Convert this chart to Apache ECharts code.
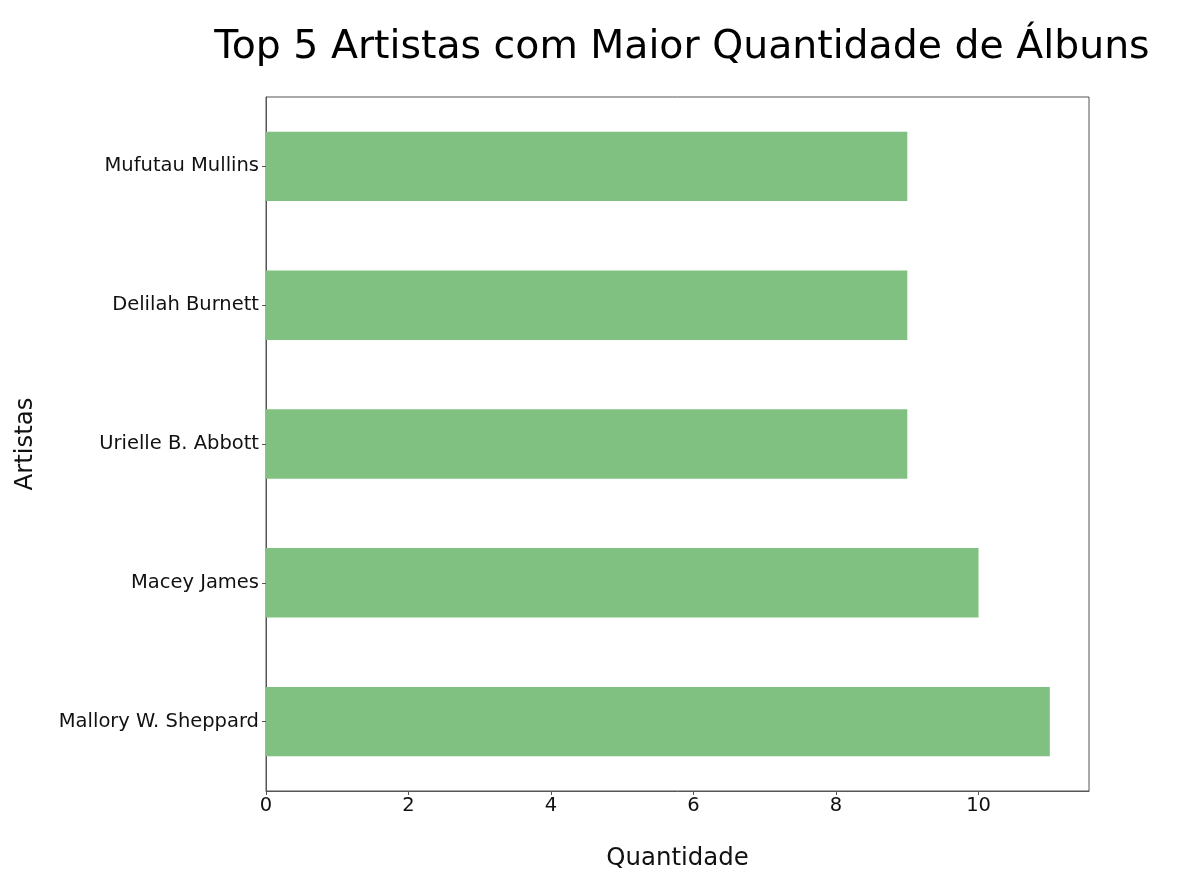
<!DOCTYPE html>
<html>
<head>
<meta charset="utf-8">
<script src="https://cdn.jsdelivr.net/npm/echarts@6/dist/echarts.min.js"></script>
<style>
    html, body { margin: 0; padding: 0; background: #fff; }
    #chart { width: 1194px; height: 881px; }
</style>
</head>
<body>
<div id="chart"></div>
<script>
    // artistas, de baixo para cima
    const artistas = ['Mallory W. Sheppard', 'Macey James', 'Urielle B. Abbott', 'Delilah Burnett', 'Mufutau Mullins'];
    const quantidades = [11, 10, 9, 9, 9];
    const xMax = 11.55;

    const fonte = 'DejaVu Sans';
    const chart = echarts.init(document.getElementById('chart'));

    const opt = {
        animation: false,
        title: {
            text: 'Top 5 Artistas com Maior Quantidade de Álbuns',
            left: 677, textAlign: 'center',
            top: 23,
            textStyle: { fontFamily: fonte, fontSize: 39.4, fontWeight: 'normal', color: '#000' }
        },
        grid: {
            left: 266, right: 105, top: 97, bottom: 90,
            show: true, borderColor: '#555', borderWidth: 1
        },
        xAxis: {
            type: 'value',
            min: 0, max: xMax, interval: 2,
            name: 'Quantidade',
            nameLocation: 'middle',
            nameGap: 56,
            nameTextStyle: { fontFamily: fonte, fontSize: 24.4, color: '#111' },
            axisLine: { show: true, lineStyle: { color: '#555' } },
            axisTick: { show: true, length: 4, lineStyle: { color: '#555' } },
            axisLabel: { fontFamily: fonte, fontSize: 19.5, color: '#111', margin: 5, showMaxLabel: false },
            splitLine: { show: false }
        },
        yAxis: {
            type: 'category',
            data: artistas,
            name: 'Artistas',
            nameLocation: 'middle',
            nameGap: 228,
            nameTextStyle: { fontFamily: fonte, fontSize: 24.4, color: '#111' },
            axisLine: { show: true, lineStyle: { color: '#555' } },
            axisTick: { show: true, length: 4, alignWithLabel: true, lineStyle: { color: '#555' } },
            axisLabel: { fontFamily: fonte, fontSize: 19.5, color: '#111', margin: 7, padding: [6, 0, 0, 0] }
        },
        series: [{
            type: 'bar',
            data: quantidades,
            barWidth: '50%',
            itemStyle: { color: '#80c080' }
        }]
    };

    chart.setOption(opt);
</script>
</body>
</html>
